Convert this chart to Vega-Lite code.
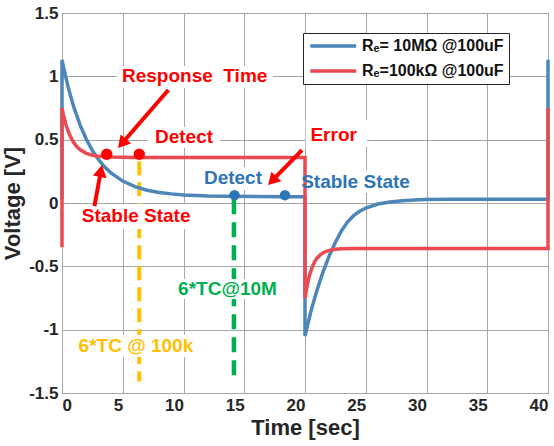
{
  "$schema": "https://vega.github.io/schema/vega-lite/v6.json",
  "width": 486,
  "height": 380,
  "autosize": {"type": "none"},
  "padding": {"left": 62, "top": 13, "right": 6, "bottom": 53},
  "background": "white",
  "config": {
    "font": "Liberation Sans",
    "view": {"stroke": "#262626", "strokeWidth": 1}
  },
  "datasets": {
    "curves": [
      {"s": "10M", "t": 0, "v": 0.03}, {"s": "10M", "t": 0, "v": 1.13}, {"s": "10M", "t": 0.25, "v": 1.019},
      {"s": "10M", "t": 0.5, "v": 0.919}, {"s": "10M", "t": 0.75, "v": 0.83}, {"s": "10M", "t": 1, "v": 0.749},
      {"s": "10M", "t": 1.5, "v": 0.613}, {"s": "10M", "t": 2, "v": 0.503}, {"s": "10M", "t": 2.5, "v": 0.414},
      {"s": "10M", "t": 3, "v": 0.343}, {"s": "10M", "t": 3.5, "v": 0.286}, {"s": "10M", "t": 4, "v": 0.24},
      {"s": "10M", "t": 5, "v": 0.173}, {"s": "10M", "t": 6, "v": 0.129}, {"s": "10M", "t": 7, "v": 0.101},
      {"s": "10M", "t": 8, "v": 0.083}, {"s": "10M", "t": 9, "v": 0.072}, {"s": "10M", "t": 10, "v": 0.064},
      {"s": "10M", "t": 12, "v": 0.056}, {"s": "10M", "t": 14, "v": 0.053}, {"s": "10M", "t": 16, "v": 0.051},
      {"s": "10M", "t": 18, "v": 0.05}, {"s": "10M", "t": 20, "v": 0.05}, {"s": "10M", "t": 20, "v": -1.05},
      {"s": "10M", "t": 20.25, "v": -0.95}, {"s": "10M", "t": 20.5, "v": -0.85}, {"s": "10M", "t": 20.75, "v": -0.765},
      {"s": "10M", "t": 21, "v": -0.685}, {"s": "10M", "t": 21.5, "v": -0.54}, {"s": "10M", "t": 22, "v": -0.415},
      {"s": "10M", "t": 22.5, "v": -0.31}, {"s": "10M", "t": 23, "v": -0.22}, {"s": "10M", "t": 23.5, "v": -0.15},
      {"s": "10M", "t": 24, "v": -0.1}, {"s": "10M", "t": 24.5, "v": -0.065}, {"s": "10M", "t": 25, "v": -0.04},
      {"s": "10M", "t": 26, "v": -0.008}, {"s": "10M", "t": 27, "v": 0.008}, {"s": "10M", "t": 28, "v": 0.018},
      {"s": "10M", "t": 29, "v": 0.024}, {"s": "10M", "t": 30, "v": 0.027}, {"s": "10M", "t": 32, "v": 0.029},
      {"s": "10M", "t": 34, "v": 0.03}, {"s": "10M", "t": 40, "v": 0.03}, {"s": "10M", "t": 40, "v": 1.13},
      {"s": "100k", "t": 0, "v": -0.35}, {"s": "100k", "t": 0, "v": 0.75}, {"s": "100k", "t": 0.1, "v": 0.704},
      {"s": "100k", "t": 0.2, "v": 0.664}, {"s": "100k", "t": 0.3, "v": 0.628}, {"s": "100k", "t": 0.4, "v": 0.597},
      {"s": "100k", "t": 0.6, "v": 0.544}, {"s": "100k", "t": 0.8, "v": 0.503}, {"s": "100k", "t": 1, "v": 0.472},
      {"s": "100k", "t": 1.25, "v": 0.442}, {"s": "100k", "t": 1.5, "v": 0.42}, {"s": "100k", "t": 2, "v": 0.392},
      {"s": "100k", "t": 2.5, "v": 0.377}, {"s": "100k", "t": 3, "v": 0.369}, {"s": "100k", "t": 4, "v": 0.363},
      {"s": "100k", "t": 5, "v": 0.361}, {"s": "100k", "t": 6, "v": 0.36}, {"s": "100k", "t": 20, "v": 0.36},
      {"s": "100k", "t": 20, "v": -0.75}, {"s": "100k", "t": 20.1, "v": -0.69}, {"s": "100k", "t": 20.2, "v": -0.64},
      {"s": "100k", "t": 20.3, "v": -0.597}, {"s": "100k", "t": 20.4, "v": -0.56}, {"s": "100k", "t": 20.6, "v": -0.504},
      {"s": "100k", "t": 20.8, "v": -0.463}, {"s": "100k", "t": 21, "v": -0.434}, {"s": "100k", "t": 21.3, "v": -0.405},
      {"s": "100k", "t": 21.6, "v": -0.387}, {"s": "100k", "t": 22, "v": -0.374}, {"s": "100k", "t": 22.5, "v": -0.366},
      {"s": "100k", "t": 23, "v": -0.362}, {"s": "100k", "t": 24, "v": -0.36}, {"s": "100k", "t": 40, "v": -0.36},
      {"s": "100k", "t": 40, "v": 0.75}
    ],
    "guides": [
      {"g": "100k", "t": 6.36, "v": 0.33, "v2": -1.41},
      {"g": "10M", "t": 14.15, "v": 0.03, "v2": -1.39}
    ],
    "boxes": [
      {"t": 4.53, "t2": 17.37, "v": 1.082, "v2": 0.908},
      {"t": 7.08, "t2": 13.0, "v": 0.6, "v2": 0.434},
      {"t": 1.07, "t2": 11.1, "v": -0.008, "v2": -0.205},
      {"t": 20.05, "t2": 25.1, "v": 0.655, "v2": 0.442},
      {"t": 11.28, "t2": 16.87, "v": 0.284, "v2": 0.103},
      {"t": 19.18, "t2": 29.14, "v": 0.26, "v2": 0.079},
      {"t": 9.2, "t2": 18.0, "v": -0.6, "v2": -0.758},
      {"t": 0.82, "t2": 11.28, "v": -1.04, "v2": -1.216}
    ],
    "labels": [
      {"g": "red", "label": "Response\u00a0 Time", "t": 10.92, "v": 1.0},
      {"g": "red", "label": "Detect", "t": 10.04, "v": 0.52},
      {"g": "red", "label": "Stable State", "t": 6.1, "v": -0.1},
      {"g": "red", "label": "Error", "t": 22.36, "v": 0.54},
      {"g": "blue", "label": "Detect", "t": 14.07, "v": 0.195},
      {"g": "blue", "label": "Stable State", "t": 24.16, "v": 0.168},
      {"g": "green", "label": "6*TC@10M", "t": 13.62, "v": -0.68},
      {"g": "yellow", "label": "6*TC @ 100k", "t": 6.08, "v": -1.125}
    ],
    "dots": [
      {"g": "red", "t": 3.68, "v": 0.385},
      {"g": "red", "t": 6.36, "v": 0.385},
      {"g": "blue", "t": 14.2, "v": 0.062},
      {"g": "blue", "t": 18.35, "v": 0.062}
    ],
    "arrows": [
      {"t": 8.75, "v": 0.892, "t2": 4.93, "v2": 0.47},
      {"t": 2.67, "v": -0.024, "t2": 3.2, "v2": 0.253},
      {"t": 19.75, "v": 0.418, "t2": 17.3, "v2": 0.176}
    ],
    "heads": [
      {"t": 4.93, "v": 0.47, "ang": 221},
      {"t": 3.2, "v": 0.253, "ang": 11},
      {"t": 17.3, "v": 0.176, "ang": 224}
    ]
  },
  "encoding": {
    "x": {
      "field": "t", "type": "quantitative",
      "scale": {"domain": [0, 40], "nice": false, "zero": false},
      "axis": {
        "title": "Time [sec]", "values": [0, 5, 10, 15, 20, 25, 30, 35, 40],
        "grid": true, "gridColor": "#a6a6a6", "domain": false, "ticks": false,
        "labelFontSize": 17, "labelFontWeight": "bold", "labelColor": "#262626",
        "labelPadding": 4, "labelFlush": false, "labelOverlap": false,
        "labelAlign": {"condition": {"test": "datum.value == 0", "value": "left"}, "value": "right"},
        "titleFontSize": 22, "titleFontWeight": "bold", "titleColor": "#262626", "titlePadding": 4
      }
    },
    "y": {
      "field": "v", "type": "quantitative",
      "scale": {"domain": [-1.5, 1.5], "nice": false, "zero": false},
      "axis": {
        "title": "Voltage [V]", "values": [-1.5, -1, -0.5, 0, 0.5, 1, 1.5],
        "labelExpr": "toString(datum.value)",
        "grid": true, "gridColor": "#a6a6a6", "domain": false, "ticks": false,
        "labelFontSize": 17, "labelFontWeight": "bold", "labelColor": "#262626",
        "labelPadding": 4, "labelFlush": false, "labelOverlap": false,
        "titleFontSize": 22, "titleFontWeight": "bold", "titleColor": "#262626", "titlePadding": 4
      }
    }
  },
  "layer": [
    {
      "data": {"name": "guides"},
      "transform": [{"filter": "datum.g == '100k'"}],
      "mark": {"type": "rule", "color": "#ffc000", "strokeWidth": 4, "strokeDash": [14, 7]},
      "encoding": {"y2": {"field": "v2"}}
    },
    {
      "data": {"name": "guides"},
      "transform": [{"filter": "datum.g == '10M'"}],
      "mark": {"type": "rule", "color": "#00b050", "strokeWidth": 4.5, "strokeDash": [15, 8]},
      "encoding": {"y2": {"field": "v2"}}
    },
    {
      "data": {"name": "boxes"},
      "mark": {"type": "rect", "fill": "white", "stroke": null},
      "encoding": {"x2": {"field": "t2"}, "y2": {"field": "v2"}}
    },
    {
      "data": {"name": "curves"},
      "transform": [{"filter": "datum.s == '10M'"}],
      "mark": {"type": "line", "strokeWidth": 3.5},
      "encoding": {
        "order": {"value": null},
        "color": {
          "field": "s", "type": "nominal",
          "scale": {"domain": ["10M", "100k"], "range": ["#4d86b8", "#eb4a50"]},
          "legend": {
            "orient": "none", "legendX": 241, "legendY": 20, "title": null,
            "labelExpr": "datum.label == '10M' ? 'R\u2091= 10M\u03a9 @100uF' : 'R\u2091=100k\u03a9 @100uF'",
            "symbolType": "M-1,0H7", "symbolSize": 132, "symbolStrokeWidth": 3.5,
            "labelFontSize": 16, "labelFontWeight": "bold", "labelColor": "#111111", "labelLimit": 0,
            "strokeColor": "#262626", "fillColor": "white", "padding": 5, "rowPadding": 9,
            "labelOffset": 38, "cornerRadius": 0
          }
        }
      }
    },
    {
      "data": {"name": "curves"},
      "transform": [{"filter": "datum.s == '100k'"}],
      "mark": {"type": "line", "strokeWidth": 3.5},
      "encoding": {
        "order": {"value": null},
        "color": {
          "field": "s", "type": "nominal",
          "scale": {"domain": ["10M", "100k"], "range": ["#4d86b8", "#eb4a50"]}
        }
      }
    },
    {
      "data": {"name": "labels"},
      "transform": [{"filter": "datum.g == 'red'"}],
      "mark": {"type": "text", "color": "#ff0000", "fontSize": 19, "fontWeight": "bold", "align": "center", "baseline": "middle"},
      "encoding": {"text": {"field": "label"}}
    },
    {
      "data": {"name": "labels"},
      "transform": [{"filter": "datum.g == 'blue'"}],
      "mark": {"type": "text", "color": "#2e75b6", "fontSize": 19, "fontWeight": "bold", "align": "center", "baseline": "middle"},
      "encoding": {"text": {"field": "label"}}
    },
    {
      "data": {"name": "labels"},
      "transform": [{"filter": "datum.g == 'green'"}],
      "mark": {"type": "text", "color": "#00b050", "fontSize": 19, "fontWeight": "bold", "align": "center", "baseline": "middle"},
      "encoding": {"text": {"field": "label"}}
    },
    {
      "data": {"name": "labels"},
      "transform": [{"filter": "datum.g == 'yellow'"}],
      "mark": {"type": "text", "color": "#ffc000", "fontSize": 19, "fontWeight": "bold", "align": "center", "baseline": "middle"},
      "encoding": {"text": {"field": "label"}}
    },
    {
      "data": {"name": "dots"},
      "transform": [{"filter": "datum.g == 'red'"}],
      "mark": {"type": "point", "shape": "circle", "filled": true, "color": "#ff0000", "size": 130, "opacity": 1}
    },
    {
      "data": {"name": "dots"},
      "transform": [{"filter": "datum.g == 'blue'"}],
      "mark": {"type": "point", "shape": "circle", "filled": true, "color": "#2e75b6", "size": 110, "opacity": 1}
    },
    {
      "data": {"name": "arrows"},
      "mark": {"type": "rule", "color": "#ff0000", "strokeWidth": 4},
      "encoding": {"x2": {"field": "t2"}, "y2": {"field": "v2"}}
    },
    {
      "data": {"name": "heads"},
      "mark": {"type": "point", "shape": "triangle-up", "filled": true, "color": "#ff0000", "size": 190, "opacity": 1},
      "encoding": {"angle": {"field": "ang", "type": "quantitative", "scale": null}}
    }
  ]
}
